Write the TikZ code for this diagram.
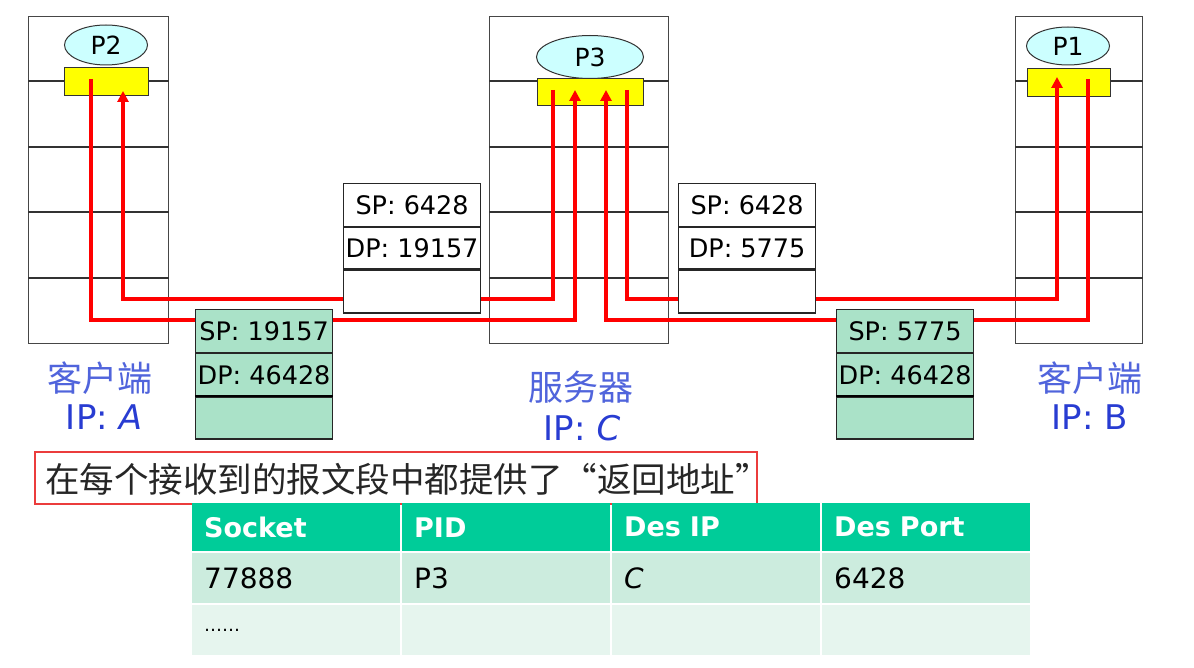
\documentclass[tikz,border=0pt]{standalone}
\usepackage{fontspec}
\setmainfont{DejaVu Sans}
\newfontfamily\cjk{Noto Sans CJK SC}
\usetikzlibrary{arrows.meta,shapes.geometric}
\definecolor{hostgray}{RGB}{70,70,70}
\definecolor{procfill}{RGB}{204,255,255}
\definecolor{sockyellow}{RGB}{255,255,0}
\definecolor{segred}{RGB}{255,0,0}
\definecolor{seggreen}{RGB}{170,226,200}
\definecolor{lblblue}{RGB}{80,100,220}
\definecolor{ipblue}{RGB}{40,60,210}
\definecolor{notered}{RGB}{235,60,60}
\definecolor{thead}{RGB}{0,204,153}
\definecolor{trowa}{RGB}{204,236,222}
\definecolor{trowb}{RGB}{230,245,238}
\tikzset{
  hostbox/.style={draw=hostgray,line width=1.2pt,anchor=north west,inner sep=0pt,minimum width=#1,minimum height=327pt},
  layerline/.style={draw=black!80,line width=1.2pt},
  sockbox/.style={draw=black!80,fill=sockyellow,line width=1.2pt,anchor=north west,inner sep=0pt,minimum height=28pt},
  proc/.style={ellipse,draw=black!80,fill=procfill,line width=1pt,inner sep=0pt,font=\fontsize{25}{27}\selectfont},
  flow/.style={draw=segred,line width=3.2pt},
  flowarrow/.style={flow,-{Triangle[width=11pt,length=11pt]}},
  segrow/.style={draw=black!85,line width=1.2pt,anchor=north west,inner sep=0pt,minimum width=137pt,font=\fontsize{25.5}{27}\selectfont},
  whiteseg/.style={segrow,fill=white},
  greenseg/.style={segrow,fill=seggreen},
  hostlbl/.style={font=\cjk\fontsize{35}{37}\selectfont,text=lblblue,inner sep=0pt},
  iplbl/.style={font=\fontsize{34}{36}\selectfont,text=ipblue,inner sep=0pt},
  cell/.style={anchor=north west,inner xsep=12pt,inner ysep=0pt,minimum width=208pt,text width=184pt,align=left,font=\fontsize{28}{30}\selectfont},
  hcell/.style={cell,fill=thead,text=white,minimum height=48pt,font=\bfseries\fontsize{27}{30}\selectfont},
  acell/.style={cell,fill=trowa,minimum height=50pt},
  bcell/.style={cell,fill=trowb,minimum height=50pt},
}
\begin{document}
\begin{tikzpicture}[x=1pt,y=-1pt]
\useasboundingbox[fill=white] (0,0) rectangle (1194,668);

% hosts
\node[hostbox=140pt] (hA) at (28,16) {};
\node[hostbox=179pt] (hC) at (489,16) {};
\node[hostbox=127pt] (hB) at (1015,16) {};
\foreach \h in {hA,hC,hB}{
  \foreach \yy in {81,147,212,278}{
    \draw[layerline] (\h.west |- 0,\yy) -- (\h.east |- 0,\yy);
  }
}

% sockets and processes
\node[sockbox,minimum width=84pt] (yA) at (64,67) {};
\node[sockbox,minimum width=106pt,minimum height=27pt] (yC) at (537,78) {};
\node[sockbox,minimum width=83pt] (yB) at (1027,68) {};
\node[proc,minimum width=83pt,minimum height=40pt] (pA) at (106,45) {P2};
\node[proc,minimum width=107pt,minimum height=43pt] (pC) at (590,57) {P3};
\node[proc,minimum width=83pt,minimum height=38pt] (pB) at (1068,46) {P1};

% flow coordinates
\coordinate (a1) at (91,79);
\coordinate (a1d) at (91,320);
\coordinate (c1d) at (575,320);
\coordinate (c1) at (575,90);
\coordinate (c2) at (553,90);
\coordinate (c2d) at (553,299);
\coordinate (a2d) at (123,299);
\coordinate (a2) at (123,91);
\coordinate (b1) at (1088,79);
\coordinate (b1d) at (1088,320);
\coordinate (c3d) at (606,320);
\coordinate (c3) at (606,90);
\coordinate (c4) at (627,90);
\coordinate (c4d) at (627,299);
\coordinate (b2d) at (1057,299);
\coordinate (b2) at (1057,77);

\draw[flowarrow] (a1) -- (a1d) -- (c1d) -- (c1);
\draw[flowarrow] (c2) -- (c2d) -- (a2d) -- (a2);
\draw[flowarrow] (b1) -- (b1d) -- (c3d) -- (c3);
\draw[flowarrow] (c4) -- (c4d) -- (b2d) -- (b2);

% segments
\node[whiteseg,minimum height=43pt] (s1a) at (343,183) {SP: 6428};
\node[whiteseg,minimum height=41pt] (s1b) at (s1a.south west) {DP: 19157};
\node[whiteseg,minimum height=43pt] (s1c) at (s1b.south west) {};
\node[whiteseg,minimum height=43pt] (s2a) at (678,183) {SP: 6428};
\node[whiteseg,minimum height=41pt] (s2b) at (s2a.south west) {DP: 5775};
\node[whiteseg,minimum height=43pt] (s2c) at (s2b.south west) {};
\node[greenseg,minimum height=43pt] (g1a) at (195,309) {SP: 19157};
\node[greenseg,minimum height=42pt] (g1b) at (g1a.south west) {DP: 46428};
\node[greenseg,minimum height=42pt] (g1c) at (g1b.south west) {};
\draw[line width=2pt] (g1c.north west) -- (g1c.north east);
\node[greenseg,minimum height=43pt] (g2a) at (836,309) {SP: 5775};
\node[greenseg,minimum height=42pt] (g2b) at (g2a.south west) {DP: 46428};
\node[greenseg,minimum height=42pt] (g2c) at (g2b.south west) {};
\draw[line width=2pt] (g2c.north west) -- (g2c.north east);

% host labels
\node[hostlbl] (lA) at (100,378) {客户端};
\node[iplbl] (iA) at (104,417) {IP: \textit{A}};
\node[hostlbl] (lC) at (581,387) {服务器};
\node[iplbl] (iC) at (582,428) {IP: \textit{C}};
\node[hostlbl] (lB) at (1090,378) {客户端};
\node[iplbl] (iB) at (1090,417) {IP: B};

% note
\draw[notered,line width=1.3pt] (35,452) rectangle (757,504);
\node[anchor=west,inner sep=0pt,font=\cjk\fontsize{34.5}{36}\selectfont,text=black!85] (note) at (45,479) {在每个接收到的报文段中都提供了“返回地址”};

% table
\node[hcell] (t11) at (192,503) {Socket};
\node[hcell] (t12) at (402,503) {PID};
\node[hcell] (t13) at (612,503) {Des IP};
\node[hcell] (t14) at (822,503) {Des Port};
\node[acell] (t21) at (192,553) {77888};
\node[acell] (t22) at (402,553) {P3};
\node[acell] (t23) at (612,553) {\textit{C}};
\node[acell] (t24) at (822,553) {6428};
\node[bcell] (t31) at (192,605) {\fontsize{18}{20}\selectfont ……};
\node[bcell] (t32) at (402,605) {};
\node[bcell] (t33) at (612,605) {};
\node[bcell] (t34) at (822,605) {};
\end{tikzpicture}
\end{document}
